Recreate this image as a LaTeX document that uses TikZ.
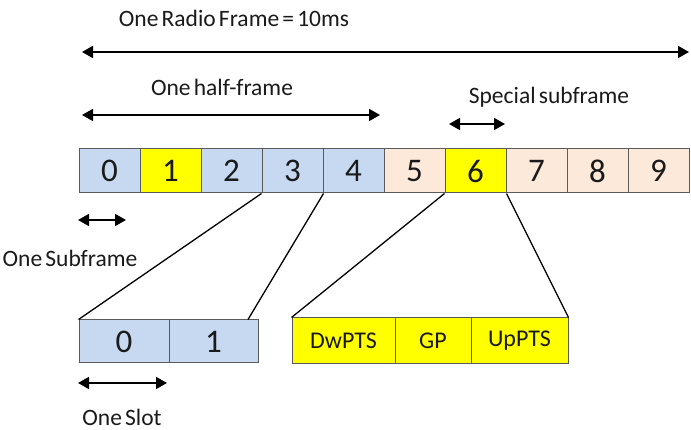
\documentclass[tikz,border=0pt]{standalone}
\usepackage{fontspec}
\setmainfont[WordSpace=0.6]{Carlito}
\usetikzlibrary{arrows.meta}
\definecolor{cblue}{HTML}{C6D9F1}
\definecolor{cpeach}{HTML}{FDE9D9}
\definecolor{cyel}{HTML}{FFFF00}
\definecolor{cedge}{HTML}{5A5A5A}
\definecolor{ctext}{HTML}{1A1A1A}
\tikzset{
  cell/.style={draw=cedge, line width=1pt, minimum width=61pt, minimum height=44pt, inner sep=0pt, text=ctext, font=\fontsize{33}{33}\selectfont},
  slotbox/.style={draw=cedge, line width=1pt, fill=cblue, minimum height=43pt, inner sep=0pt, text=ctext, font=\fontsize{33}{33}\selectfont},
  spbox/.style={draw=cedge, line width=1pt, fill=cyel, minimum height=46pt, inner sep=0pt, text=ctext, font=\fontsize{24}{24}\selectfont},
  lbl/.style={inner sep=0pt, text=ctext, font=\fontsize{23.5}{23.5}\selectfont},
  dblarrow/.style={line width=1.8pt, {Triangle[length=11pt,width=12pt]}-{Triangle[length=11pt,width=12pt]}},
  conn/.style={line width=1.3pt, black}
}
\begin{document}
\begin{tikzpicture}[x=1pt,y=-1pt]
\useasboundingbox (0,0) rectangle (691,430);
% labels
\node[lbl] (radio) at (234,18) {One Radio Frame = 10ms};
\node[lbl] (half) at (222,87) {One half-frame};
\node[lbl] (special) at (549,97) {Special subframe};
\node[lbl] (onesub) at (70,258) {One Subframe};
\node[lbl] (oneslot) at (122,417) {One Slot};
% arrows
\coordinate (ra) at (82,52); \coordinate (rb) at (689,52);
\coordinate (ha) at (82,115); \coordinate (hb) at (380,115);
\coordinate (sa) at (449,124); \coordinate (sb) at (505,124);
\coordinate (ua) at (78,220); \coordinate (ub) at (126,220);
\coordinate (la) at (78,383); \coordinate (lb) at (167,383);
\draw[dblarrow] (ra) -- (rb);
\draw[dblarrow] (ha) -- (hb);
\draw[dblarrow] (sa) -- (sb);
\draw[dblarrow] (ua) -- (ub);
\draw[dblarrow] (la) -- (lb);
% subframe cells
\node[cell, fill=cblue]  (c0) at (109.5,171) {0};
\node[cell, fill=cyel]   (c1) at (170.5,171) {1};
\node[cell, fill=cblue]  (c2) at (231.5,171) {2};
\node[cell, fill=cblue]  (c3) at (292.5,171) {3};
\node[cell, fill=cblue]  (c4) at (353.5,171) {4};
\node[cell, fill=cpeach] (c5) at (414.5,171) {5};
\node[cell, fill=cyel]   (c6) at (475.5,171) {6};
\node[cell, fill=cpeach] (c7) at (536.5,171) {7};
\node[cell, fill=cpeach] (c8) at (597.5,171) {8};
\node[cell, fill=cpeach] (c9) at (658.5,171) {9};
% slot boxes
\node[slotbox, minimum width=90pt] (s0) at (124,341.5) {0};
\node[slotbox, minimum width=89pt] (s1) at (213.5,341.5) {1};
% special subframe boxes
\node[spbox, minimum width=103pt] (p1) at (343.5,341) {DwPTS};
\node[spbox, minimum width=76pt]  (p2) at (433,341) {GP};
\node[spbox, minimum width=97pt]  (p3) at (519.5,341) {UpPTS};
% connectors
\coordinate (s1t) at (248,319.5);
\draw[conn] (c3.south west) -- (s0.north west);
\draw[conn] (c3.south east) -- (s1t);
\draw[conn] (c6.south west) -- (p1.north west);
\draw[conn] (c6.south east) -- (p3.north east);
\end{tikzpicture}
\end{document}
